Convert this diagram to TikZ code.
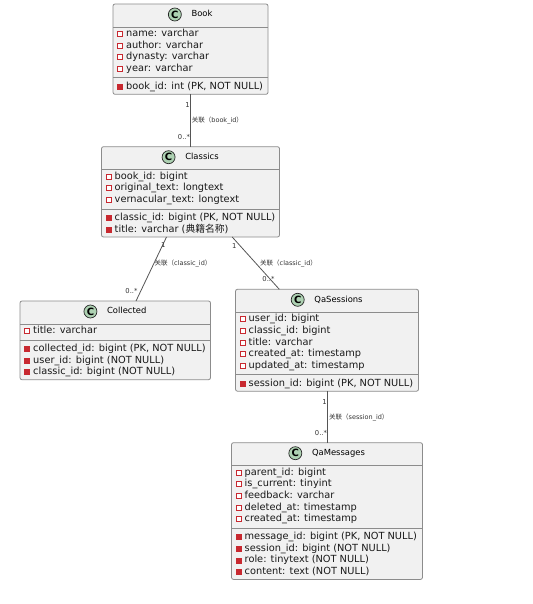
\documentclass[tikz,border=0pt]{standalone}
\usepackage{fontspec}
\setmainfont{DejaVu Sans}
\newfontfamily\cjk{Noto Sans CJK SC}
\usetikzlibrary{calc}
\definecolor{boxfill}{HTML}{F1F1F1}
\definecolor{boxline}{HTML}{8C8C8C}
\definecolor{badgefill}{HTML}{ADD1B2}
\definecolor{markred}{HTML}{C82930}
\definecolor{linkline}{HTML}{555555}
\tikzset{
 cbox/.style={draw=boxline, fill=boxfill, line width=0.8pt, rounded corners=2pt, inner sep=0pt, outer sep=0pt},
 sepline/.style={draw=boxline, line width=0.8pt},
 attr/.style={anchor=west, inner sep=0pt, text height=7.2pt, text depth=2pt, font=\fontsize{9.8}{11}\selectfont, text=black!90},
 fldmark/.style={rectangle, draw=markred, fill=white, line width=0.9pt, minimum width=5pt, minimum height=5pt, inner sep=0pt},
 mthmark/.style={rectangle, draw=markred, fill=markred, line width=0.6pt, minimum width=5pt, minimum height=5pt, inner sep=0pt},
 ctitle/.style={inner sep=0pt, text height=6.2pt, text depth=1.8pt, font=\fontsize{8.4}{10}\selectfont},
 badge/.style={circle, draw=black!85, fill=badgefill, line width=0.7pt, minimum size=13pt, inner sep=0pt, font=\bfseries\fontsize{10}{10}\selectfont},
 link/.style={draw=linkline, line width=0.8pt},
 mult/.style={inner sep=0pt, font=\fontsize{6.8}{8}\selectfont, text=black!80},
 rel/.style={inner sep=0pt, anchor=west, font=\fontsize{6.5}{8}\selectfont, text=black!80},
}
\newcommand\classhead[2]{%
 \node[ctitle] (#1-title) at ([xshift=11.5pt,yshift=-10.5pt]#1.north) {#2};
 \node[badge] (#1-badge) at ([xshift=-16.5pt]#1-title.west) {C};
 \draw[sepline] ([yshift=-23pt]#1.north west) -- ([yshift=-23pt]#1.north east);}
\newcommand\classrows[4]{%
 \foreach[count=\i] \t in {#4}{%
  \pgfmathsetmacro\dy{#2+11.6*(\i-1)}%
  \node[#3mark] (#1-#3-\i-m) at ([xshift=7pt,yshift=-\dy pt]#1.north west) {};
  \node[attr] (#1-#3-\i) at ([xshift=13pt,yshift=-\dy pt]#1.north west) {\t};}}
\newcommand\classsep[2]{%
 \draw[sepline] ([yshift=-#2pt]#1.north west) -- ([yshift=-#2pt]#1.north east);}
\begin{document}
\begin{tikzpicture}[x=1pt,y=-1pt]
\useasboundingbox[fill=white] (0,0) rectangle (532,604);

% Book
\node[cbox, minimum width=155pt, minimum height=90.3pt] (book) at (190.5,49.15) {};
\classhead{book}{Book}
\classrows{book}{30}{fld}{name: varchar, author: varchar, dynasty: varchar, year: varchar}
\classsep{book}{73.8}
\classrows{book}{82.8}{mth}{{book\_id: int (PK, NOT NULL)}}

% Classics
\node[cbox, minimum width=178pt, minimum height=90.3pt] (classics) at (190.5,191.85) {};
\classhead{classics}{Classics}
\classrows{classics}{30}{fld}{book\_id: bigint, original\_text: longtext, vernacular\_text: longtext}
\classsep{classics}{62.2}
\classrows{classics}{71.2}{mth}{{classic\_id: bigint (PK, NOT NULL)}, {title: varchar ({\cjk 典籍名称})}}

% Collected
\node[cbox, minimum width=190.5pt, minimum height=78.7pt] (collected) at (115.25,340.35) {};
\classhead{collected}{Collected}
\classrows{collected}{30}{fld}{title: varchar}
\classsep{collected}{39}
\classrows{collected}{48}{mth}{{collected\_id: bigint (PK, NOT NULL)}, {user\_id: bigint (NOT NULL)}, {classic\_id: bigint (NOT NULL)}}

% QaSessions
\node[cbox, minimum width=183pt, minimum height=101.9pt] (qas) at (327,340.25) {};
\classhead{qas}{QaSessions}
\classrows{qas}{30}{fld}{user\_id: bigint, classic\_id: bigint, title: varchar, created\_at: timestamp, updated\_at: timestamp}
\classsep{qas}{85.4}
\classrows{qas}{94.4}{mth}{{session\_id: bigint (PK, NOT NULL)}}

% QaMessages
\node[cbox, minimum width=191pt, minimum height=136.7pt] (qam) at (327,511.05) {};
\classhead{qam}{QaMessages}
\classrows{qam}{30}{fld}{parent\_id: bigint, is\_current: tinyint, feedback: varchar, deleted\_at: timestamp, created\_at: timestamp}
\classsep{qam}{85.4}
\classrows{qam}{94.4}{mth}{{message\_id: bigint (PK, NOT NULL)}, {session\_id: bigint (NOT NULL)}, {role: tinytext (NOT NULL)}, {content: text (NOT NULL)}}

% connectors
\coordinate (cls-a) at ([xshift=65pt]classics.south west);
\coordinate (col-a) at ([xshift=116pt]collected.north west);
\coordinate (cls-b) at ([xshift=130.7pt]classics.south west);
\coordinate (qas-a) at ([xshift=43.8pt]qas.north west);
\draw[link] (book.south) -- (classics.north);
\draw[link] (cls-a) -- (col-a);
\draw[link] (cls-b) -- (qas-a);
\draw[link] (qas.south) -- (qam.north);

% labels
\node[mult] (m1a) at (187.5,105) {1};
\node[rel] (r1) at (191.7,120) {{\cjk 关联（}book\_id{\cjk ）}};
\node[mult] (m1b) at (184,137) {0..*};

\node[mult] (m2a) at (163.3,245) {1};
\node[rel] (r2) at (154.5,263.3) {{\cjk 关联（}classic\_id{\cjk ）}};
\node[mult] (m2b) at (131.5,290.7) {0..*};

\node[mult] (m3a) at (234.3,246.5) {1};
\node[rel] (r3) at (260,263.3) {{\cjk 关联（}classic\_id{\cjk ）}};
\node[mult] (m3b) at (268.5,279.3) {0..*};

\node[mult] (m4a) at (324.5,401.7) {1};
\node[rel] (r4) at (329,417.3) {{\cjk 关联（}session\_id{\cjk ）}};
\node[mult] (m4b) at (321,432.7) {0..*};
\end{tikzpicture}
\end{document}
